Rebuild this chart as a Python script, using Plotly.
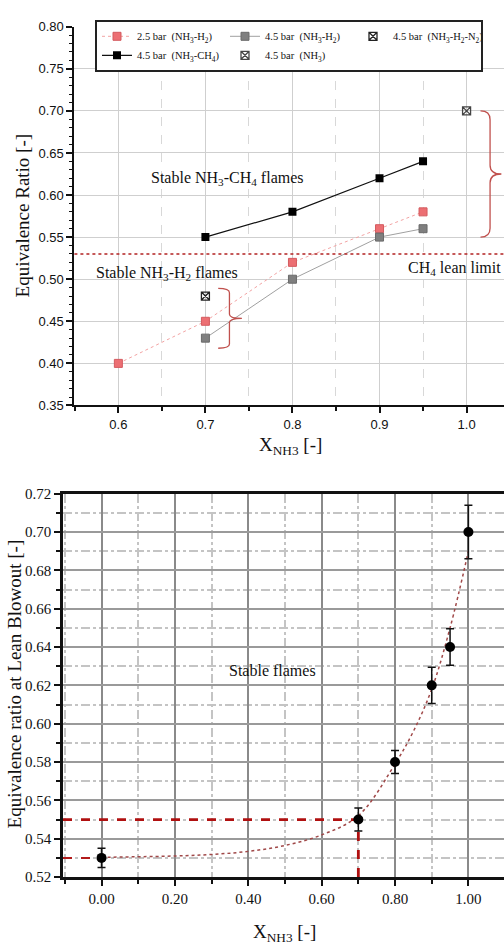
import plotly.graph_objects as go

# ---------------- data: top chart (equivalence ratio vs X_NH3) ----------------
X_25_H2 = [0.6, 0.7, 0.8, 0.9, 0.95]
PHI_25_H2 = [0.40, 0.45, 0.52, 0.56, 0.58]
X_45_H2 = [0.7, 0.8, 0.9, 0.95]
PHI_45_H2 = [0.43, 0.50, 0.55, 0.56]
X_45_H2N2 = [0.7]
PHI_45_H2N2 = [0.48]
X_45_CH4 = [0.7, 0.8, 0.9, 0.95]
PHI_45_CH4 = [0.55, 0.58, 0.62, 0.64]
X_45_NH3 = [1.0]
PHI_45_NH3 = [0.70]
CH4_LEAN_LIMIT = 0.53

# ---------------- data: bottom chart (lean blowout) ----------------
X_LBO = [0.0, 0.7, 0.8, 0.9, 0.95, 1.0]
PHI_LBO = [0.53, 0.55, 0.58, 0.62, 0.64, 0.70]
ERR_LBO = [0.005, 0.006, 0.006, 0.0095, 0.0095, 0.014]
X_FIT = [0.0, 0.2, 0.3, 0.4, 0.5, 0.6, 0.7, 0.8, 0.85, 0.9, 0.95, 1.0]
PHI_FIT = [0.5303, 0.531, 0.5318, 0.5334, 0.5365, 0.542, 0.552, 0.579, 0.596, 0.618, 0.650, 0.690]

TOP_X_RANGE = [0.5495, 1.043]
TOP_Y_RANGE = [0.35, 0.80]
BOT_X_RANGE = [-0.105, 1.097]
BOT_Y_RANGE = [0.52, 0.72]

W, H = 504, 947
SERIF = "Liberation Serif, Times New Roman, serif"
SANS = "Liberation Sans, Arial, sans-serif"


def py(px):
    return 1 - px / H


def px_x(px):
    return px / W


fig = go.Figure()

# ---- top traces ----
fig.add_trace(go.Scatter(
    x=X_25_H2, y=PHI_25_H2, mode="lines+markers",
    name="2.5 bar  (NH<sub>3</sub>-H<sub>2</sub>)",
    line=dict(color="#f2a3a3", width=1, dash="dot"),
    marker=dict(symbol="square", size=8, color="#ec6f73", line=dict(color="#d45b5f", width=1)),
    xaxis="x", yaxis="y"))
fig.add_trace(go.Scatter(
    x=X_45_H2, y=PHI_45_H2, mode="lines+markers",
    name="4.5 bar  (NH<sub>3</sub>-H<sub>2</sub>)",
    line=dict(color="#a0a0a0", width=1),
    marker=dict(symbol="square", size=8, color="#7f7f7f", line=dict(color="#6a6a6a", width=1)),
    xaxis="x", yaxis="y"))
fig.add_trace(go.Scatter(
    x=X_45_H2N2, y=PHI_45_H2N2, mode="markers",
    name="4.5 bar  (NH<sub>3</sub>-H<sub>2</sub>-N<sub>2</sub>)",
    marker=dict(symbol="square-x-open", size=8, color="#222222", line=dict(width=1.3)),
    xaxis="x", yaxis="y"))
fig.add_trace(go.Scatter(
    x=X_45_CH4, y=PHI_45_CH4, mode="lines+markers",
    name="4.5 bar  (NH<sub>3</sub>-CH<sub>4</sub>)",
    line=dict(color="#111111", width=1.2),
    marker=dict(symbol="square", size=8, color="#000000"),
    xaxis="x", yaxis="y"))
fig.add_trace(go.Scatter(
    x=X_45_NH3, y=PHI_45_NH3, mode="markers",
    name="4.5 bar  (NH<sub>3</sub>)",
    marker=dict(symbol="square-x-open", size=8, color="#444444", line=dict(width=1.3)),
    xaxis="x", yaxis="y"))

# ---- bottom traces ----
fig.add_trace(go.Scatter(
    x=[BOT_X_RANGE[0], X_LBO[0]], y=[PHI_LBO[0], PHI_LBO[0]], mode="lines",
    line=dict(color="#b31b1b", width=2, dash="dash"), showlegend=False,
    xaxis="x2", yaxis="y2"))
fig.add_trace(go.Scatter(
    x=X_FIT, y=PHI_FIT, mode="lines", line_shape="spline",
    line=dict(color="#a04848", width=1.5, dash="dot"), showlegend=False,
    xaxis="x2", yaxis="y2"))
fig.add_trace(go.Scatter(
    x=[BOT_X_RANGE[0], X_LBO[1]], y=[PHI_LBO[1], PHI_LBO[1]], mode="lines",
    line=dict(color="#b01010", width=2.8, dash="dash"), showlegend=False,
    xaxis="x2", yaxis="y2"))
fig.add_trace(go.Scatter(
    x=[X_LBO[1], X_LBO[1]], y=[BOT_Y_RANGE[0], PHI_LBO[1]], mode="lines",
    line=dict(color="#b01010", width=2.8, dash="dash"), showlegend=False,
    xaxis="x2", yaxis="y2"))
fig.add_trace(go.Scatter(
    x=X_LBO, y=PHI_LBO, mode="markers",
    marker=dict(symbol="circle", size=10, color="#000000"),
    error_y=dict(type="data", array=ERR_LBO, color="#111111", thickness=1.5, width=4),
    showlegend=False, xaxis="x2", yaxis="y2"))


def brace_path(x_hook, x_spine, x_tip, y_bot, y_top):
    y_mid = (y_bot + y_top) / 2
    d = (y_top - y_bot) * 0.07
    return (f"M{x_hook},{y_top} Q{x_spine},{y_top} {x_spine},{y_top - d} "
            f"L{x_spine},{y_mid + d} Q{x_spine},{y_mid} {x_tip},{y_mid} "
            f"Q{x_spine},{y_mid} {x_spine},{y_mid - d} "
            f"L{x_spine},{y_bot + d} Q{x_spine},{y_bot} {x_hook},{y_bot}")


shapes = [
    dict(type="line", xref="x domain", yref="y", x0=0, x1=1,
         y0=CH4_LEAN_LIMIT, y1=CH4_LEAN_LIMIT,
         line=dict(color="#b22222", width=1.5, dash="dot")),
    dict(type="path", xref="x", yref="y",
         path=brace_path(1.016, 1.027, 1.040, PHI_45_CH4[0], PHI_45_NH3[0]),
         line=dict(color="#c0504d", width=1.3)),
    dict(type="path", xref="x", yref="y",
         path=brace_path(0.7147, 0.7276, 0.7419, 0.418, 0.489),
         line=dict(color="#c0504d", width=1.3)),
]

ANN_FONT = dict(family=SERIF, size=16, color="#111")
TITLE_FONT = dict(family=SERIF, size=19, color="#111")

annotations = [
    dict(x=0.725, y=0.620, xref="x", yref="y", showarrow=False,
         xanchor="center", yanchor="middle",
         text="Stable NH<sub>3</sub>-CH<sub>4</sub> flames", font=ANN_FONT),
    dict(x=0.6556, y=0.507, xref="x", yref="y", showarrow=False,
         xanchor="center", yanchor="middle",
         text="Stable NH<sub>3</sub>-H<sub>2</sub> flames", font=ANN_FONT),
    dict(x=0.999, y=0.5127, xref="paper", yref="y", xanchor="right", yanchor="middle",
         showarrow=False, text="CH<sub>4</sub> lean limit", font=ANN_FONT),
    dict(x=0.4647, y=0.628, xref="x2", yref="y2", showarrow=False,
         xanchor="center", yanchor="middle",
         text="Stable flames", font=ANN_FONT),
    # axis titles
    dict(x=px_x(22), y=py(211), xref="paper", yref="paper", showarrow=False,
         xanchor="center", yanchor="middle",
         textangle=-90, text="Equivalence Ratio [-]", font=TITLE_FONT),
    dict(x=px_x(290), y=py(446), xref="paper", yref="paper", showarrow=False,
         xanchor="center", yanchor="middle",
         text="X<sub>NH3</sub> [-]", font=TITLE_FONT),
    dict(x=px_x(14), y=py(688), xref="paper", yref="paper", showarrow=False,
         xanchor="center", yanchor="middle",
         textangle=-90, text="Equivalence ratio at Lean Blowout [-]", font=TITLE_FONT),
    dict(x=px_x(284), y=py(941), xref="paper", yref="paper", showarrow=False,
         xanchor="center", yanchor="middle",
         text="X<sub>NH3</sub> [-]", font=TITLE_FONT),
]

fig.update_layout(
    width=W, height=H,
    margin=dict(l=0, r=0, t=0, b=0),
    paper_bgcolor="white", plot_bgcolor="white",
    shapes=shapes, annotations=annotations,
    legend=dict(
        orientation="h", x=px_x(95), y=py(12), xanchor="left", yanchor="top",
        bgcolor="white", bordercolor="#222", borderwidth=2,
        font=dict(family=SERIF, size=10.5, color="#111"),
        itemwidth=30, tracegroupgap=0,
        entrywidth=83, entrywidthmode="pixels",
    ),
    xaxis=dict(
        domain=[px_x(74.4), 1], anchor="y", range=TOP_X_RANGE,
        tick0=0.6, dtick=0.1, tickformat=".1f",
        showline=True, linecolor="#111", linewidth=2,
        ticks="outside", ticklen=6, tickwidth=2, tickcolor="#111",
        showgrid=True, gridcolor="#cfcfcf", gridwidth=1,
        minor=dict(dtick=0.05, tick0=0.6, ticks="outside", ticklen=4, tickwidth=1.5,
                   tickcolor="#111", showgrid=True, gridcolor="#d8d8d8", griddash="dash"),
        tickfont=dict(family=SANS, size=13, color="#111"),
        zeroline=False,
    ),
    yaxis=dict(
        domain=[py(404.3), py(19)], anchor="x", range=TOP_Y_RANGE,
        tick0=0.35, dtick=0.05, tickformat=".2f",
        showline=True, linecolor="#111", linewidth=2,
        ticks="outside", ticklen=6, tickwidth=2, tickcolor="#111",
        showgrid=True, gridcolor="#cfcfcf", gridwidth=1,
        minor=dict(dtick=0.01, tick0=0.35, ticks="outside", ticklen=3, tickwidth=1.2,
                   tickcolor="#111", showgrid=False),
        tickfont=dict(family=SANS, size=13, color="#111"),
        zeroline=False,
    ),
    xaxis2=dict(
        domain=[px_x(63), 1], anchor="y2", range=BOT_X_RANGE,
        tick0=0, dtick=0.2, tickformat=".2f",
        showline=True, linecolor="#111", linewidth=2.5, mirror=True,
        ticks="outside", ticklen=6, tickwidth=2, tickcolor="#111",
        showgrid=True, gridcolor="#8a8a8a", gridwidth=1.5,
        minor=dict(dtick=0.1, tick0=0, ticks="outside", ticklen=4, tickwidth=1.5,
                   tickcolor="#111", showgrid=True, gridcolor="#c4c4c4", griddash="dashdot"),
        tickfont=dict(family=SERIF, size=15, color="#111"),
        zeroline=False,
    ),
    yaxis2=dict(
        domain=[py(884), py(494)], anchor="x2", range=BOT_Y_RANGE,
        tick0=0.52, dtick=0.02, tickformat=".2f",
        showline=True, linecolor="#111", linewidth=2.5,
        ticks="outside", ticklen=6, tickwidth=2, tickcolor="#111",
        showgrid=True, gridcolor="#9a9a9a", gridwidth=1.5,
        minor=dict(dtick=0.01, tick0=0.52, ticks="outside", ticklen=4, tickwidth=1.5,
                   tickcolor="#111", showgrid=True, gridcolor="#c4c4c4", griddash="dashdot"),
        tickfont=dict(family=SERIF, size=15, color="#111"),
        zeroline=False,
    ),
)

fig.write_html("out.html")
